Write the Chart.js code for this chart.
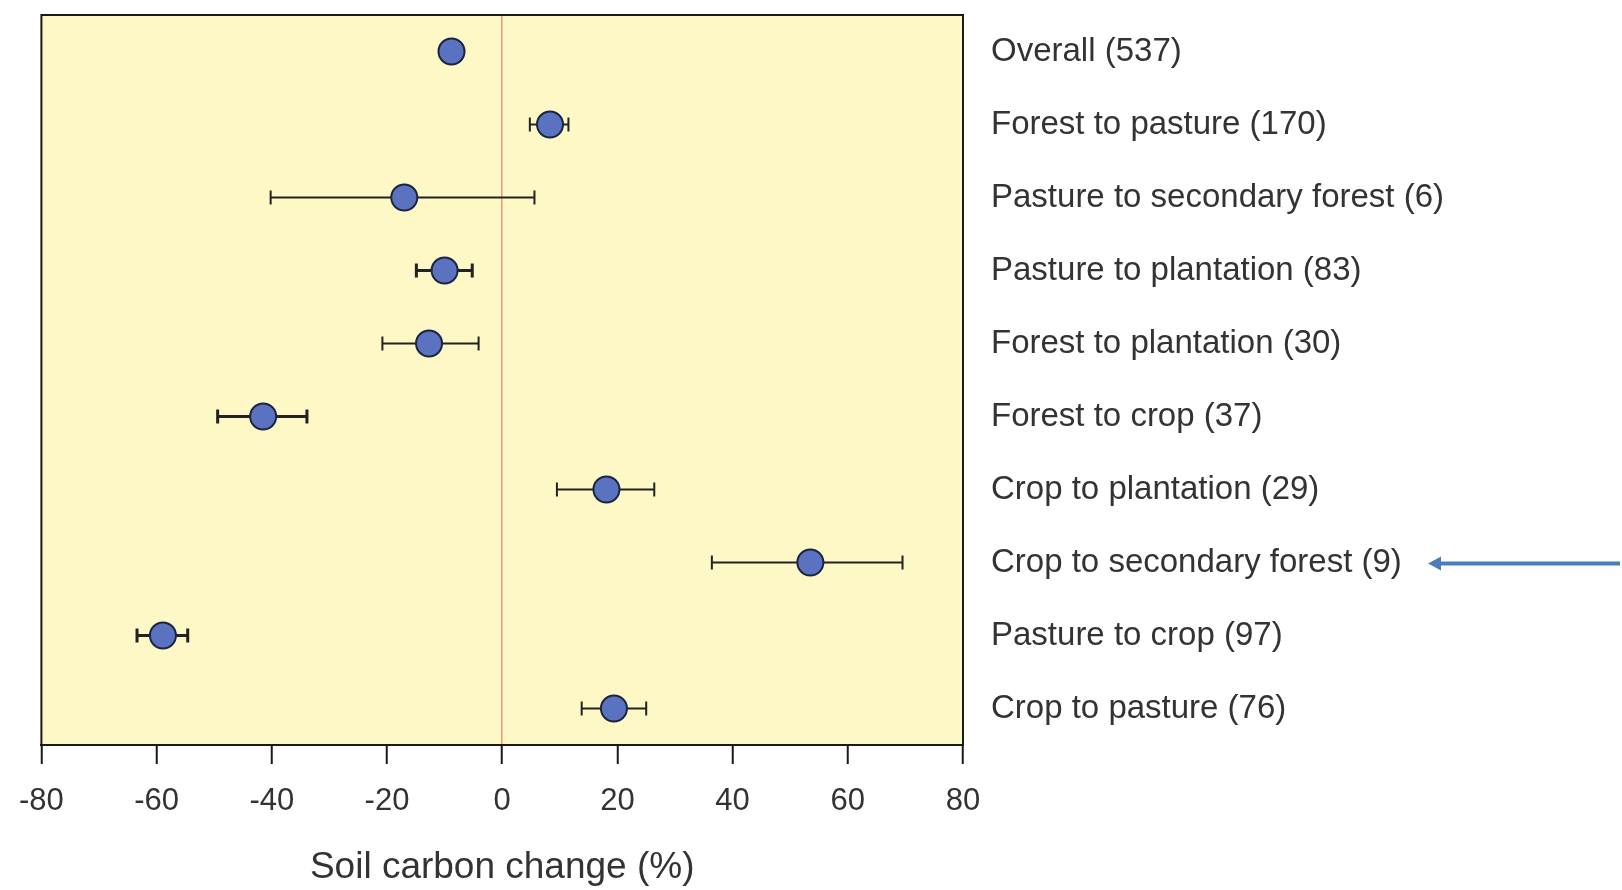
<!DOCTYPE html>
<html>
<head>
<meta charset="utf-8">
<script src="https://cdn.jsdelivr.net/npm/chart.js@4.4.1/dist/chart.umd.min.js"></script>
<style>
  html, body { margin: 0; padding: 0; background: #ffffff; }
  #wrap { width: 1622px; height: 890px; }
</style>
</head>
<body>
<div id="wrap"><canvas id="soilChart" width="1622" height="890"></canvas></div>
<script>
// Data
const categories = [
  "Overall (537)",
  "Forest to pasture (170)",
  "Pasture to secondary forest (6)",
  "Pasture to plantation (83)",
  "Forest to plantation (30)",
  "Forest to crop (37)",
  "Crop to plantation (29)",
  "Crop to secondary forest (9)",
  "Pasture to crop (97)",
  "Crop to pasture (76)"
];
const meanChange = [-8.8, 8.3, -17.0, -10.0, -12.7, -41.5, 18.1, 53.5, -58.9, 19.4];
const lowerCI = [-10.3, 4.8, -40.2, -14.9, -20.8, -49.4, 9.5, 36.4, -63.4, 13.8];
const upperCI = [-7.3, 11.5, 5.6, -5.2, -4.1, -33.9, 26.4, 69.5, -54.6, 25.0];
const xTicks = [-80, -60, -40, -20, 0, 20, 40, 60, 80];
const arrowTarget = "Crop to secondary forest (9)";

// thicker whiskers on a few rows, like the source figure
const errWidths = [2, 2, 2, 3, 2, 3, 2, 2, 3, 2];

const fontFam = "'Liberation Sans', Arial, Helvetica, sans-serif";

// yellow plot background + frame
const plotFrame = {
  id: "plotFrame",
  beforeDraw(chart) {
    const { ctx, chartArea: a } = chart;
    ctx.save();
    ctx.fillStyle = "#fdf8c6";
    ctx.fillRect(a.left, a.top, a.right - a.left, a.bottom - a.top);
    ctx.restore();
  },
  beforeDatasetsDraw(chart) {
    const { ctx, chartArea: a } = chart;
    ctx.save();
    ctx.strokeStyle = "#1a1a1a";
    ctx.lineWidth = 2;
    ctx.strokeRect(a.left, a.top, a.right - a.left, a.bottom - a.top);
    ctx.restore();
  }
};

// horizontal confidence-interval whiskers
const errorBars = {
  id: "errorBars",
  beforeDatasetsDraw(chart) {
    const { ctx, scales } = chart;
    const xs = scales.x, ys = scales.y;
    ctx.save();
    ctx.strokeStyle = "#222";
    categories.forEach((c, i) => {
      const y = ys.getPixelForValue(i);
      const x1 = xs.getPixelForValue(lowerCI[i]);
      const x2 = xs.getPixelForValue(upperCI[i]);
      ctx.lineWidth = errWidths[i];
      ctx.beginPath();
      ctx.moveTo(x1, y);
      ctx.lineTo(x2, y);
      ctx.moveTo(x1, y - 7);
      ctx.lineTo(x1, y + 7);
      ctx.moveTo(x2, y - 7);
      ctx.lineTo(x2, y + 7);
      ctx.stroke();
    });
    ctx.restore();
  }
};

// blue pointer arrow on the right
const pointerArrow = {
  id: "pointerArrow",
  afterDraw(chart) {
    const { ctx, scales } = chart;
    const y = scales.y.getPixelForValue(categories.indexOf(arrowTarget)) + 1;
    const xEnd = chart.width - 2;
    const xTip = chart.width - 194;
    ctx.save();
    ctx.strokeStyle = "#4a7ebb";
    ctx.fillStyle = "#4a7ebb";
    ctx.lineWidth = 4;
    ctx.beginPath();
    ctx.moveTo(xEnd, y);
    ctx.lineTo(xTip + 10, y);
    ctx.stroke();
    ctx.beginPath();
    ctx.moveTo(xTip, y);
    ctx.lineTo(xTip + 13, y - 7);
    ctx.lineTo(xTip + 13, y + 7);
    ctx.closePath();
    ctx.fill();
    ctx.restore();
  }
};

const ctx = document.getElementById("soilChart");

new Chart(ctx, {
  type: "scatter",
  data: {
    labels: categories,
    datasets: [
      {
        label: "Soil carbon change",
        data: categories.map((c, i) => ({ x: meanChange[i], y: c })),
        pointRadius: 13,
        pointHoverRadius: 13,
        pointBackgroundColor: "#5a72c0",
        pointBorderColor: "#1c2540",
        pointBorderWidth: 2
      }
    ]
  },
  options: {
    responsive: false,
    animation: false,
    layout: {
      padding: { left: 41, top: 12, right: 0, bottom: 0 }
    },
    scales: {
      x: {
        type: "linear",
        min: -80,
        max: 80,
        afterBuildTicks: (axis) => {
          axis.ticks = xTicks.map((v) => ({ value: v }));
        },
        afterFit: (axis) => {
          axis.height = 145;
        },
        border: { display: true, color: "#1a1a1a", width: 2 },
        grid: {
          drawOnChartArea: true,
          drawTicks: true,
          tickLength: 19,
          tickWidth: 2,
          tickColor: "#1a1a1a",
          lineWidth: 1.5,
          color: (c) => (c.tick && c.tick.value === 0 ? "#e49a74" : "transparent")
        },
        ticks: {
          padding: 19,
          color: "#333",
          font: { family: fontFam, size: 31 }
        },
        title: {
          display: true,
          text: "Soil carbon change (%)",
          color: "#333",
          font: { family: fontFam, size: 37 },
          padding: { top: 0, bottom: 0 }
        }
      },
      y: {
        type: "category",
        position: "right",
        offset: true,
        afterFit: (axis) => {
          axis.width = 659;
          axis.paddingTop = 0;
          axis.paddingBottom = 0;
        },
        border: { display: false },
        grid: { display: false, drawTicks: false },
        ticks: {
          padding: 28,
          color: "#333",
          font: { family: fontFam, size: 33 }
        }
      }
    },
    plugins: {
      legend: { display: false },
      tooltip: { enabled: false }
    }
  },
  plugins: [plotFrame, errorBars, pointerArrow]
});
</script>
</body>
</html>
